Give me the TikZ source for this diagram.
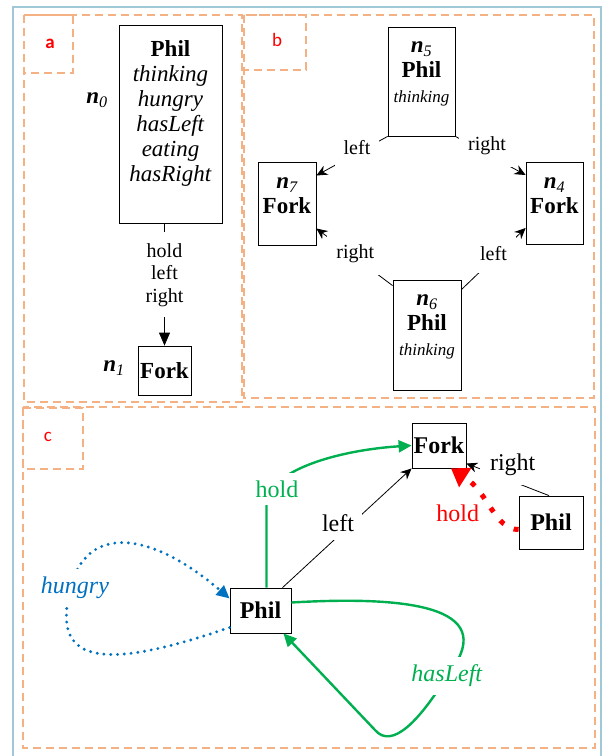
\documentclass[tikz,border=0pt]{standalone}
\usepackage{fontspec}
\setmainfont{Liberation Serif}[BoldFont={Liberation Serif Bold}, ItalicFont={Liberation Serif Italic}, BoldItalicFont={Liberation Serif Bold Italic}]
\newfontfamily\tagfont{Carlito}
\usetikzlibrary{arrows.meta}
\definecolor{panelorange}{RGB}{244,177,131}
\definecolor{framegray}{RGB}{160,200,214}
\definecolor{holdgreen}{RGB}{0,176,80}
\definecolor{hungryblue}{RGB}{0,112,192}
\newcommand{\nsub}[1]{{\bfseries\itshape n}\textsubscript{\itshape #1}}

\begin{document}
\begin{tikzpicture}[x=1pt,y=-1pt,
  panel/.style={draw=panelorange, line width=2.2pt, dash pattern=on 8pt off 5pt},
  box/.style={draw, line width=0.8pt, inner sep=1pt, align=center, font=\fontsize{23}{25}\selectfont},
  lab/.style={fill=white, inner xsep=9pt, inner ysep=12pt, align=center, font=\fontsize{20}{22.5}\selectfont},
  clab/.style={fill=white, inner sep=8pt, font=\fontsize{24}{27}\selectfont},
  nlab/.style={font=\fontsize{23}{25}\selectfont},
  tag/.style={text=red, font=\tagfont\fontsize{19}{21}\selectfont},
  bedge/.style={line width=0.8pt, -{Stealth[width=10pt,length=11pt]}},
  aedge/.style={line width=0.8pt, -{Triangle[width=11pt,length=13pt]}},
  greenline/.style={holdgreen, line width=2.4pt, -{Triangle[width=12pt,length=13pt]}},
  bluedot/.style={hungryblue, line width=3.2pt, line cap=round, dash pattern=on 0pt off 6.8pt, -{Triangle[width=12pt,length=13pt]}},
  reddot/.style={red, line width=5pt, dash pattern=on 5pt off 11pt, -{Triangle[width=22pt,length=17pt]}}
]
\useasboundingbox (0,0) rectangle (603,756);
\draw[framegray, line width=2.5pt] (13,760) -- (13,7) -- (601,7) -- (601,760);

% panels
\draw[panel] (24,15) rectangle (242,402);
\draw[panel] (24,15) rectangle (73,73);
\node[tag] at (50,44) {\bfseries a};
\draw[panel] (244,15) rectangle (594,398);
\draw[panel] (244,15) rectangle (306,70);
\node[tag] at (277,40) {b};
\draw[panel] (23,407) rectangle (595,748);
\draw[panel] (23,408) rectangle (83,469);
\node[tag] at (48,437) {c};

% a
\node[box, minimum width=103pt, minimum height=198pt] (n0) at (170.5,124)
  {\textbf{Phil}\\\textit{thinking}\\\textit{hungry}\\\textit{hasLeft}\\\textit{eating}\\\textit{hasRight}\\\mbox{}};
\node[nlab] (n0lab) at (97,100) {\nsub{0}};
\node[box, minimum width=53pt, minimum height=49pt] (n1) at (164.5,370.5) {\textbf{Fork}};
\node[nlab] (n1lab) at (114,368) {\nsub{1}};
\draw[aedge] (n0.south -| n1.north) -- node[lab, pos=0.42, inner sep=11pt]{hold\\left\\right} (n1.north);

% b
\node[box, minimum width=67pt, minimum height=109pt] (n5) at (421.5,81.5)
  {\nsub{5}\\\textbf{Phil}\\{\fontsize{17}{20}\selectfont\textit{thinking}}\\[-6pt]\mbox{}};
\node[box, minimum width=58pt, minimum height=83pt] (n7) at (287,203.5)
  {\nsub{7}\\\textbf{Fork}\\[-10pt]\mbox{}};
\node[box, minimum width=57pt, minimum height=82pt] (n4) at (554.5,203)
  {\nsub{4}\\\textbf{Fork}\\[-10pt]\mbox{}};
\node[box, minimum width=68pt, minimum height=110pt] (n6) at (427,335)
  {\nsub{6}\\\textbf{Phil}\\{\fontsize{17}{20}\selectfont\textit{thinking}}\\[-6pt]\mbox{}};
\draw[bedge] (n5.south west) -- node[lab, pos=0.43, yshift=6pt]{left} ([yshift=28pt]n7.east);
\draw[bedge] (n5.south east) -- node[lab, pos=0.45, yshift=8pt]{right} ([yshift=28pt]n4.west);
\draw[bedge] ([yshift=-6pt]n6.north west) -- node[lab, pos=0.49, yshift=4pt]{right} ([yshift=-25pt]n7.east);
\draw[bedge] ([yshift=-10pt]n6.north east) -- node[lab, pos=0.5, yshift=5pt]{left} ([yshift=-25pt]n4.west);

% c
\node[box, fill=white, minimum width=61pt, minimum height=45pt, font=\fontsize{24}{26}\selectfont] (cphil) at (260.5,610.5) {\textbf{Phil}};
\node[box, fill=white, minimum width=54pt, minimum height=45pt, font=\fontsize{24}{26}\selectfont] (cfork) at (439,445.5) {\textbf{Fork}};
\node[box, fill=white, minimum width=64pt, minimum height=53pt, font=\fontsize{24}{26}\selectfont] (cphilb) at (551,522.5) {\textbf{Phil}};

\draw[greenline] ([xshift=6pt]cphil.north) -- (266.5,505)
  node[clab, text=holdgreen, xshift=10.5pt, yshift=16pt]{hold}
  .. controls (266.5,470) and (340,450) .. (cfork.west);
\draw[bedge] ([xshift=22pt]cphil.north) -- node[clab, pos=0.5, xshift=-9pt, yshift=5pt]{left} (cfork.south west);
\draw[reddot] ([yshift=-7pt]cphilb.west) .. controls (495,530) and (488,492) .. ([xshift=12pt]cfork.south)
  node[clab, pos=0.5, text=red, inner sep=3pt, xshift=-32pt, yshift=-5pt]{hold};
\draw[bedge] ([xshift=-2pt]cphilb.north) -- node[clab, pos=0.5, xshift=5pt, yshift=15pt, inner sep=10pt]{right} ([yshift=-18pt]cfork.east);
\draw[bluedot] ([yshift=-17pt]cphil.west) .. controls (120,665) and (55,670) .. (68,600)
  node[clab, text=hungryblue, xshift=7pt, yshift=12pt]{\textit{hungry}}
  .. controls (80,520) and (150,530) .. ([yshift=12pt]cphil.west);
\draw[greenline] ([yshift=8pt]cphil.east) .. controls (420,595) and (500,610) .. (447,676)
  node[clab, text=holdgreen]{\textit{hasLeft}}
  .. controls (420,720) and (392,750) .. (375,730) -- ([xshift=-8pt]cphil.south east);
\end{tikzpicture}
\end{document}
